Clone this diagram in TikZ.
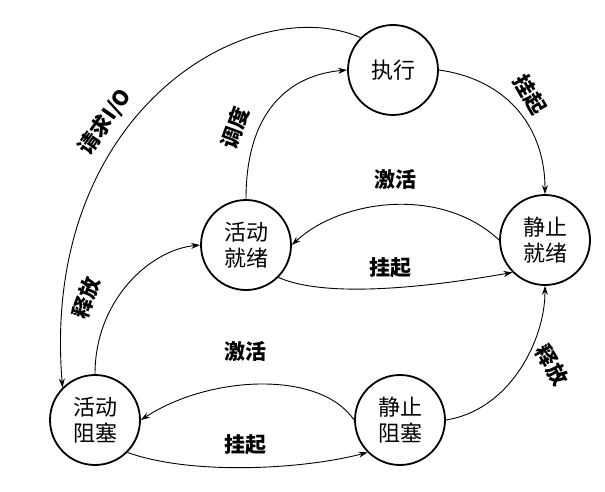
\documentclass[tikz,border=0pt]{standalone}
\usepackage{fontspec}
\newfontfamily\cjk{Noto Sans CJK SC}
\usetikzlibrary{arrows.meta}
\begin{document}
\begin{tikzpicture}[x=1pt,y=-1pt,
  st/.style={circle,draw,line width=1.8pt,minimum size=90pt,inner sep=0pt,align=center,font=\cjk\fontsize{22}{26}\selectfont},
  ar/.style={-{Stealth[length=9pt,width=6pt]},line width=0.9pt},
  lb/.style={font=\cjk\bfseries\fontsize{21}{24}\selectfont}]
\useasboundingbox (0,0) rectangle (605,492);
\node[st] (run) at (393,70) {执行};
\node[st] (ar) at (246,245) {活动\\就绪};
\node[st] (sr) at (545,240) {静止\\就绪};
\node[st] (ab) at (95,420) {活动\\阻塞};
\node[st] (sb) at (400,420) {静止\\阻塞};
\draw[ar] (ar.north) .. controls (246,110) and (290,75) .. (run.west);
\node[lb,rotate=70] at (235,128) {调度};
\draw[ar] (run.east) .. controls (510,80) and (545,130) .. (sr.north);
\node[lb,rotate=-60] at (530,95) {挂起};
\draw[ar] (sr.west) .. controls (440,185) and (340,200) .. (ar.east);
\node[lb] at (395,180) {激活};
\draw[ar] (ar.south east) .. controls (330,300) and (440,285) .. (sr.south west);
\node[lb] at (390,268) {挂起};
\draw[ar] (run.north west) .. controls (250,-10) and (40,110) .. (ab.north west);
\node[lb,rotate=55] at (105,122) {请求I/O};
\draw[ar] (ab.north) .. controls (95,300) and (150,250) .. (ar.west);
\node[lb,rotate=70] at (86,298) {释放};
\draw[ar] (sb.west) .. controls (320,370) and (210,375) .. (ab.east);
\node[lb] at (245,352) {激活};
\draw[ar] (ab.south east) .. controls (190,475) and (300,470) .. (sb.south west);
\node[lb] at (245,445) {挂起};
\draw[ar] (sb.east) .. controls (510,410) and (545,340) .. (sr.south);
\node[lb,rotate=-60] at (552,365) {释放};
\end{tikzpicture}
\end{document}
